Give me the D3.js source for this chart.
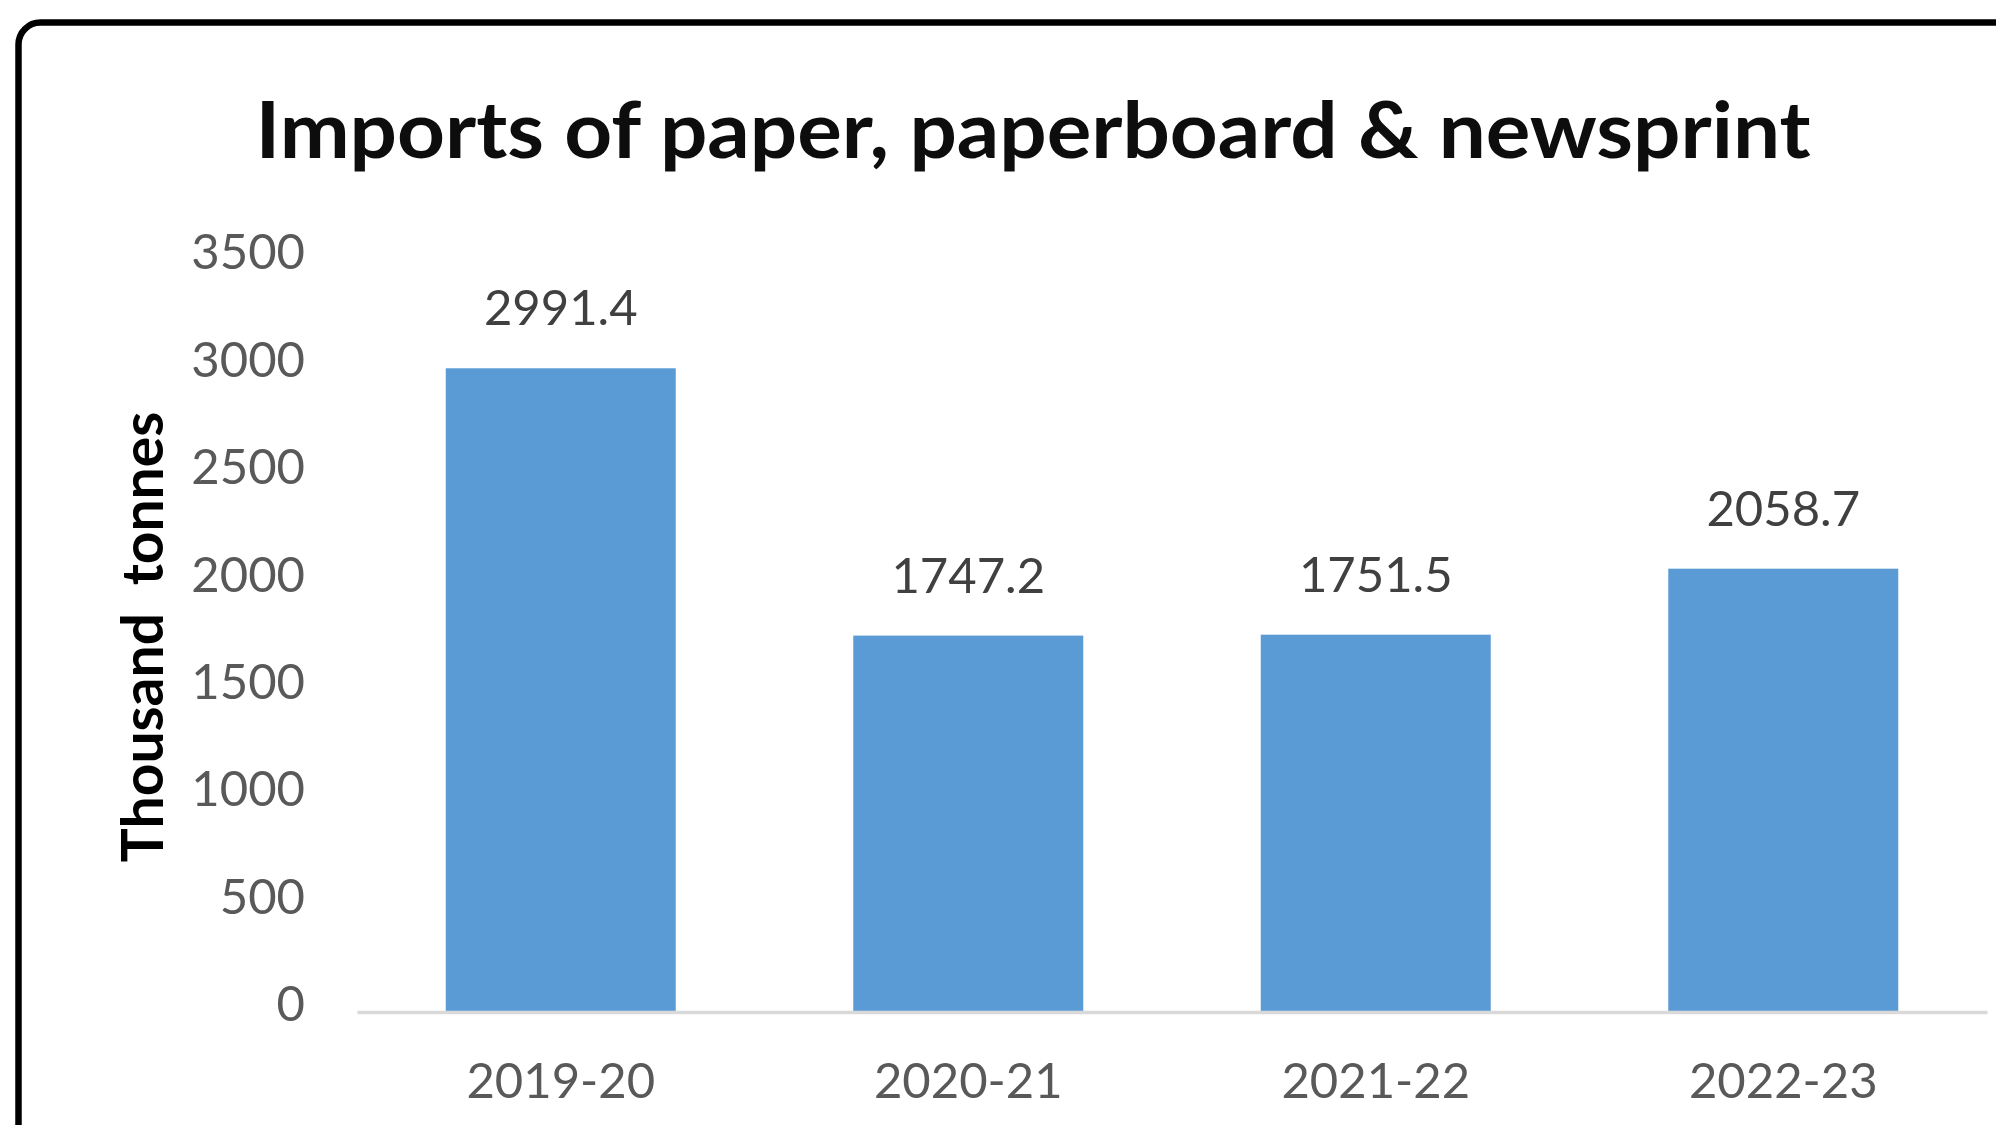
<!DOCTYPE html>
<html>
<head>
<meta charset="utf-8">
<script src="https://cdn.jsdelivr.net/npm/d3@7"></script>
<style>
  html, body { margin: 0; padding: 0; background: #ffffff; overflow: hidden; }
  svg { display: block; }
</style>
</head>
<body>
<script>
// Imports of paper, paperboard & newsprint (thousand tonnes)
const categories = ["2019-20", "2020-21", "2021-22", "2022-23"];
const values = [2991.4, 1747.2, 1751.5, 2058.7];
const yTicks = [0, 500, 1000, 1500, 2000, 2500, 3000, 3500];
const titleText = "Imports of paper, paperboard & newsprint";
const yTitleText = "Thousand  tonnes";

const W = 1996, H = 1125;
const plot = { left: 357, right: 1987, top: 259, bottom: 1011 };

const svg = d3.select("body").append("svg")
  .attr("width", W).attr("height", H);

svg.append("rect").attr("width", W).attr("height", H).attr("fill", "#ffffff");

// frame with rounded corner, running off the right and bottom edges
svg.append("rect")
  .attr("x", 18.5).attr("y", 22.5)
  .attr("width", 2200).attr("height", 1300)
  .attr("rx", 22).attr("ry", 22)
  .attr("fill", "#ffffff")
  .attr("stroke", "#000000")
  .attr("stroke-width", 6.5);

const x = d3.scaleBand()
  .domain(categories)
  .range([plot.left, plot.right])
  .paddingInner(0.4356)
  .paddingOuter(0.2178);

const y = d3.scaleLinear()
  .domain([0, 3500])
  .range([plot.bottom, plot.top]);

// title
svg.append("text")
  .attr("x", 1033).attr("y", 158)
  .attr("text-anchor", "middle")
  .attr("font-family", "Lato, 'Open Sans', sans-serif")
  .attr("font-weight", 700)
  .attr("font-size", 78)
  .attr("textLength", 1555)
  .attr("lengthAdjust", "spacingAndGlyphs")
  .attr("fill", "#0d0d0d")
  .text(titleText);

// y axis labels (no line, no ticks)
const yAxis = d3.axisLeft(y).tickValues(yTicks).tickFormat(d3.format("d"))
  .tickSize(0).tickPadding(0);
const yg = svg.append("g")
  .attr("transform", `translate(305,0)`)
  .call(yAxis);
yg.select(".domain").remove();
yg.selectAll("text")
  .attr("font-family", "Lato, 'Open Sans', sans-serif")
  .attr("font-size", 49)
  .attr("fill", "#595959")
  .attr("dy", "0.2em");

// y axis title
svg.append("text")
  .attr("transform", `translate(163,637) rotate(-90)`)
  .attr("text-anchor", "middle")
  .attr("font-family", "Lato, 'Open Sans', sans-serif")
  .attr("font-weight", 700)
  .attr("font-size", 57)
  .attr("fill", "#000000")
  .style("white-space", "pre")
  .text(yTitleText);

// bars
svg.append("g").selectAll("rect")
  .data(values)
  .join("rect")
  .attr("x", (d, i) => x(categories[i]))
  .attr("width", x.bandwidth())
  .attr("y", d => y(d))
  .attr("height", d => y(0) - y(d))
  .attr("fill", "#5b9bd5");

// baseline and category labels
const xAxis = d3.axisBottom(x).tickSize(0).tickPadding(0);
const xg = svg.append("g")
  .attr("transform", `translate(0,${plot.bottom + 1})`)
  .call(xAxis);
xg.select(".domain")
  .attr("stroke", "#d9d9d9")
  .attr("stroke-width", 3.5);
xg.selectAll("text")
  .attr("font-family", "Lato, 'Open Sans', sans-serif")
  .attr("font-size", 49)
  .attr("fill", "#595959")
  .attr("dy", 0)
  .attr("y", 86);

// value labels
svg.append("g").selectAll("text")
  .data(values)
  .join("text")
  .attr("x", (d, i) => x(categories[i]) + x.bandwidth() / 2)
  .attr("y", d => y(d) - 43)
  .attr("text-anchor", "middle")
  .attr("font-family", "Lato, 'Open Sans', sans-serif")
  .attr("font-size", 49)
  .attr("fill", "#404040")
  .text(d => d3.format(".1f")(d));
</script>
</body>
</html>
